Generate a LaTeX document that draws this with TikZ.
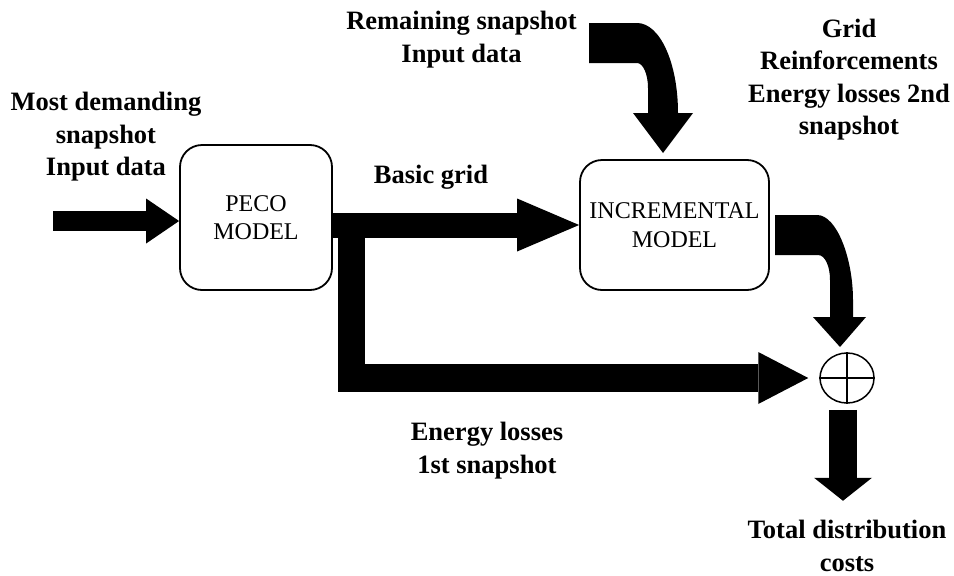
\documentclass[tikz,border=0pt]{standalone}
\usepackage{fontspec}
\setmainfont{Liberation Serif}
\usetikzlibrary{arrows.meta,shapes.geometric,calc}
\begin{document}
\begin{tikzpicture}[x=1pt,y=-1pt,
  lbl/.style={font=\fontsize{26.5}{32.5}\selectfont\bfseries, align=center, inner sep=0pt, anchor=base},
  model/.style={draw, line width=1.8pt, rounded corners=22pt, align=center, inner sep=0pt, font=\fontsize{24}{28.5}\selectfont},
  blk/.style={draw=black, line join=miter},
]
\useasboundingbox (0,0) rectangle (954,576);

% blocks
\node[model, minimum width=152pt, minimum height=145pt] (peco) at (256,217.5) {PECO\\MODEL};
\node[model, minimum width=189pt, minimum height=130pt] (inc) at (674.5,225) {INCREMENTAL\\MODEL};
\node[draw, ellipse, line width=1.5pt, minimum width=54pt, minimum height=50pt, inner sep=0pt] (sum) at (847,378) {};
\draw[line width=1.5pt] (sum.north) -- (sum.south) (sum.west) -- (sum.east);

% labels (anchor = baseline of last line)
\node[lbl] (l1) at (106,175.5) {Most demanding\\snapshot\\Input data};
\node[lbl] (l2) at (461.5,62) {Remaining snapshot\\Input data};
\node[lbl] (l3) at (849,134.5) {Grid\\Reinforcements\\Energy losses 2nd\\snapshot};
\node[lbl] (l4) at (431,183) {Basic grid};
\node[lbl] (l5) at (487,473) {Energy losses\\1st snapshot};
\node[lbl] (l6) at (847,571) {Total distribution\\costs};

% straight block arrows
\coordinate (inS) at (53,221);
\draw[blk, line width=20pt, -{Triangle[width=45pt,length=33pt,line width=0pt]}] (inS) -- (inS -| peco.west);
\draw[blk, line width=25pt, -{Triangle[width=53pt,length=62pt,line width=0pt]}] (peco.east |- inc.west) -- (inc.west);
\coordinate (br) at (351.5,225);
\coordinate (sumIn) at ($(sum.west)+(-11,0)$);
\draw[blk, line width=27.5pt, -{Triangle[width=52pt,length=50pt,line width=0pt]}] (br) -- (br |- sum.west) -- (sumIn);
\coordinate (outS) at ($(sum.south)+(-4,6)$);
\coordinate (outE) at ($(sum.south)+(-4,97)$);
\draw[blk, line width=28pt, -{Triangle[width=58pt,length=23pt,line width=0pt]}] (outS) -- (outE);

% bent block arrows
\fill (589,23) -- (637,23) .. controls (660,23) and (678,63) .. (678,113)
  -- (693,113) -- (663,153) -- (633,113) -- (648,113) -- (648,88)
  .. controls (648,74) and (643,63) .. (637,63) -- (589,63) -- cycle;
\fill (775,215) -- (817,215) .. controls (837,215) and (853,259) .. (853,300)
  -- (853,317) -- (866,317) -- (840,347) -- (813,317) -- (830,317) -- (830,280)
  .. controls (830,266) and (825,255) .. (818,255) -- (775,255) -- cycle;
\end{tikzpicture}
\end{document}
